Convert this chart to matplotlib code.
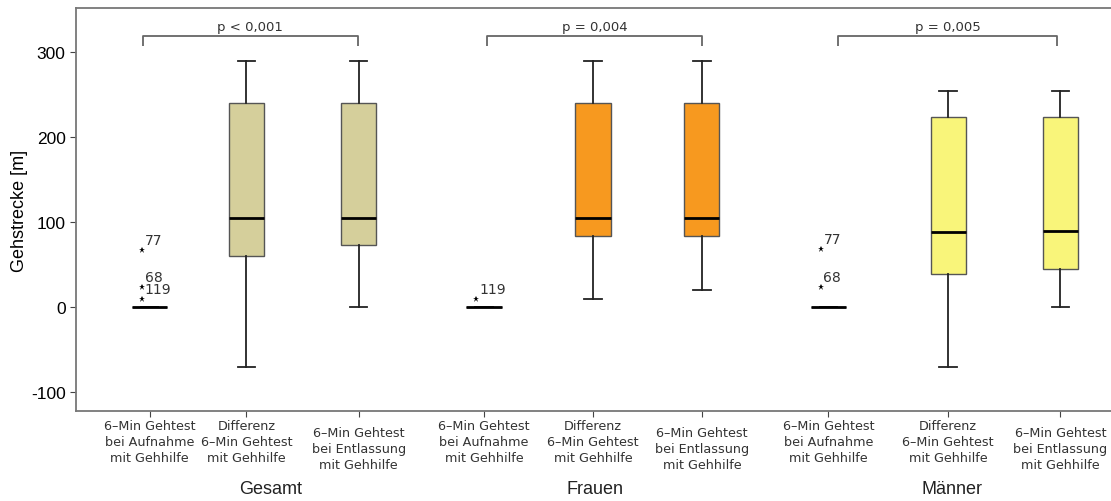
import matplotlib
matplotlib.use("Agg")
import matplotlib.pyplot as plt
from matplotlib.transforms import ScaledTranslation

# ---- data ----
positions = [0.67, 1.55, 2.57, 3.71, 4.70, 5.69, 6.84, 7.93, 8.95]
tick_labels = [
    "6\u2013Min Gehtest\nbei Aufnahme\nmit Gehhilfe",
    "Differenz\n6\u2013Min Gehtest\nmit Gehhilfe",
    "6\u2013Min Gehtest\nbei Entlassung\nmit Gehhilfe",
] * 3
groups = ["Gesamt", "Frauen", "M\u00e4nner"]
group_x = [1.77, 4.72, 7.96]
colors = ["#D5CF9B", "#F7991F", "#F9F57A"]
# whislo, q1, med, q3, whishi
whislo = [0, -70, 0, 0, 10, 20, 0, -70, 0]
q1 = [0, 60, 73, 0, 84, 84, 0, 39, 45]
med = [0, 105, 105, 0, 105, 105, 0, 89, 90]
q3 = [0, 240, 240, 0, 240, 240, 0, 224, 224]
whishi = [0, 290, 290, 0, 290, 290, 0, 255, 255]
outliers = [[68, 24, 10], [], [], [10], [], [], [69, 24], [], []]
outlier_ids = [["77", "68", "119"], [], [], ["119"], [], [], ["77", "68"], [], []]
p_texts = ["p < 0,001", "p = 0,004", "p = 0,005"]
bracket_left = [0.61, 3.74, 6.93]
bracket_right = [2.56, 5.69, 8.92]

fig = plt.figure(figsize=(11.11, 5.02), dpi=100)
ax = fig.add_axes([0.0684, 0.179, 0.9316, 0.803])

ax.set_xlim(0.0, 9.41)
ax.set_ylim(-122, 352)

stats = []
for i in range(9):
    stats.append(dict(whislo=whislo[i], q1=q1[i], med=med[i], q3=q3[i],
                      whishi=whishi[i], fliers=[]))
bp = ax.bxp(stats, positions=positions, widths=0.32, patch_artist=True,
            showfliers=False,
            medianprops=dict(color="black", lw=2),
            whiskerprops=dict(color="#222222", lw=1.3),
            capprops=dict(color="#222222", lw=1.3),
            boxprops=dict(edgecolor="#555555", lw=1.0))
for i, b in enumerate(bp["boxes"]):
    b.set_facecolor(colors[i // 3])

# outliers
for i in range(9):
    for v, lab in zip(outliers[i], outlier_ids[i]):
        ax.plot(positions[i] - 0.07, v, marker="*", color="black", ms=5, mew=0)
        ax.text(positions[i] - 0.045, v + 3, lab, fontsize=10, color="#333333",
                ha="left", va="bottom")

# brackets
for g in range(3):
    xa = bracket_left[g]
    xb = bracket_right[g]
    yb, yt = 307, 319
    ax.plot([xa, xa, xb, xb], [yb, yt, yt, yb], color="#666666", lw=1.3,
            solid_capstyle="butt", clip_on=False)
    ax.text((xa + xb) / 2, yt + 4, p_texts[g], ha="center", va="bottom",
            fontsize=9.5, color="#333333")

ax.set_xticks(positions)
ax.set_xticklabels(tick_labels, fontsize=9.2, color="#333333",
                   linespacing=1.3)
ax.tick_params(axis="x", length=4, color="#444444", pad=2)
for i, lab in enumerate(ax.get_xticklabels()):
    if i % 3 == 2:
        lab.set_transform(lab.get_transform() +
                          ScaledTranslation(0, -5 / 72, fig.dpi_scale_trans))
ax.set_yticks([-100, 0, 100, 200, 300])
ax.set_yticklabels(["-100", "0", "100", "200", "300"], fontsize=12.5,
                   family="Liberation Sans")
ax.tick_params(axis="y", length=4, color="#444444")
ax.set_ylabel("Gehstrecke [m]", fontsize=13, family="Liberation Sans",
              labelpad=2)

for s in ["top", "bottom", "left"]:
    ax.spines[s].set_color("#777777")
    ax.spines[s].set_linewidth(1.3)
ax.spines["right"].set_visible(False)

for g in range(3):
    ax.text(group_x[g], -0.17, groups[g], transform=ax.get_xaxis_transform(),
            ha="center", va="top", fontsize=13, family="Liberation Sans", color="#222222")

fig.savefig("out.png", dpi=100)
